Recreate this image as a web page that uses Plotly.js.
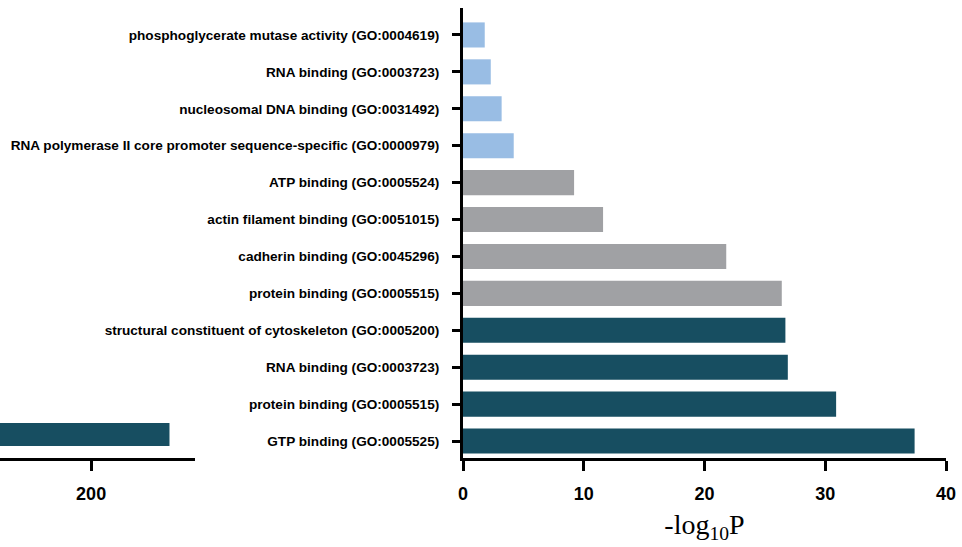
<!DOCTYPE html>
<html><head><meta charset="utf-8">
<script src="https://cdn.plot.ly/plotly-3.0.1.min.js"></script>
<style>body{margin:0;padding:0;background:#fff}#chart{width:962px;height:547px}</style>
</head><body><div id="chart"></div>
<script>
// categories listed bottom to top (zero-width space keeps repeated names distinct)
const categories = [
  "GTP binding (GO:0005525)",
  "protein binding (GO:0005515)",
  "RNA binding (GO:0003723)",
  "structural constituent of cytoskeleton (GO:0005200)",
  "protein binding (GO:0005515)\u200B",
  "cadherin binding (GO:0045296)",
  "actin filament binding (GO:0051015)",
  "ATP binding (GO:0005524)",
  "RNA polymerase II core promoter sequence-specific (GO:0000979)",
  "nucleosomal DNA binding (GO:0031492)",
  "RNA binding (GO:0003723)\u200B",
  "phosphoglycerate mutase activity (GO:0004619)"
];
const values = [37.4, 30.9, 26.9, 26.7, 26.4, 21.8, 11.6, 9.2, 4.2, 3.2, 2.3, 1.8];
const groups = ["a","a","a","a","b","b","b","b","c","c","c","c"];
const groupColors = {a: "#174E61", b: "#A0A1A4", c: "#99BDE4"};
// fragment of a broken-axis panel at bottom left
const brokenCategory = ["GTP binding (GO:0005525)"];
const brokenValue = [243];
const xTicks = [0, 10, 20, 30, 40];
const brokenTicks = [200];

const traces = [
  {
    type: "bar", orientation: "h",
    y: categories, x: values,
    marker: {color: groups.map(g => groupColors[g])},
    width: 0.68,
    xaxis: "x", yaxis: "y",
    hoverinfo: "x+y"
  },
  {
    type: "bar", orientation: "h",
    y: brokenCategory, x: brokenValue,
    marker: {color: groupColors.a},
    width: 0.62, offset: -0.134,
    base: 0,
    xaxis: "x2", yaxis: "y",
    hoverinfo: "x+y"
  }
];

const layout = {
  width: 962, height: 547,
  margin: {l: 0, r: 16, t: 8, b: 89},
  paper_bgcolor: "#fff", plot_bgcolor: "#fff",
  showlegend: false,
  font: {family: "Liberation Sans, Arial, sans-serif", color: "#000"},
  xaxis: {
    domain: [463/946, 1],
    range: [0, 40],
    tickvals: xTicks,
    ticks: "outside", ticklen: 10, tickwidth: 3, tickcolor: "#000",
    showline: true, linewidth: 3, linecolor: "#000",
    showgrid: false, zeroline: false,
    tickfont: {size: 18, weight: "bold", color: "#000"},
    ticklabelstandoff: 7,
    title: {text: "-log<sub>10</sub>P", font: {family: "Liberation Serif, Times New Roman, serif", size: 28, color: "#000"}, standoff: 12},
    anchor: "y"
  },
  xaxis2: {
    domain: [0, 195/946],
    range: [150, 257],
    tickvals: brokenTicks,
    ticks: "outside", ticklen: 10, tickwidth: 3, tickcolor: "#000",
    showline: true, linewidth: 3, linecolor: "#000",
    showgrid: false, zeroline: false,
    tickfont: {size: 18, weight: "bold", color: "#000"},
    ticklabelstandoff: 7,
    anchor: "y"
  },
  yaxis: {
    type: "category",
    categoryorder: "array", categoryarray: categories,
    range: [-0.46, 11.73],
    ticks: "outside", ticklen: 8, tickwidth: 3, tickcolor: "#000",
    showline: true, linewidth: 3, linecolor: "#000",
    showgrid: false, zeroline: false,
    tickfont: {size: 13.6, weight: "bold", color: "#000"},
    ticklabelstandoff: 10,
    anchor: "x"
  },
  bargap: 0.32
};
Plotly.newPlot("chart", traces, layout, {staticPlot: true, displayModeBar: false});
</script></body></html>
